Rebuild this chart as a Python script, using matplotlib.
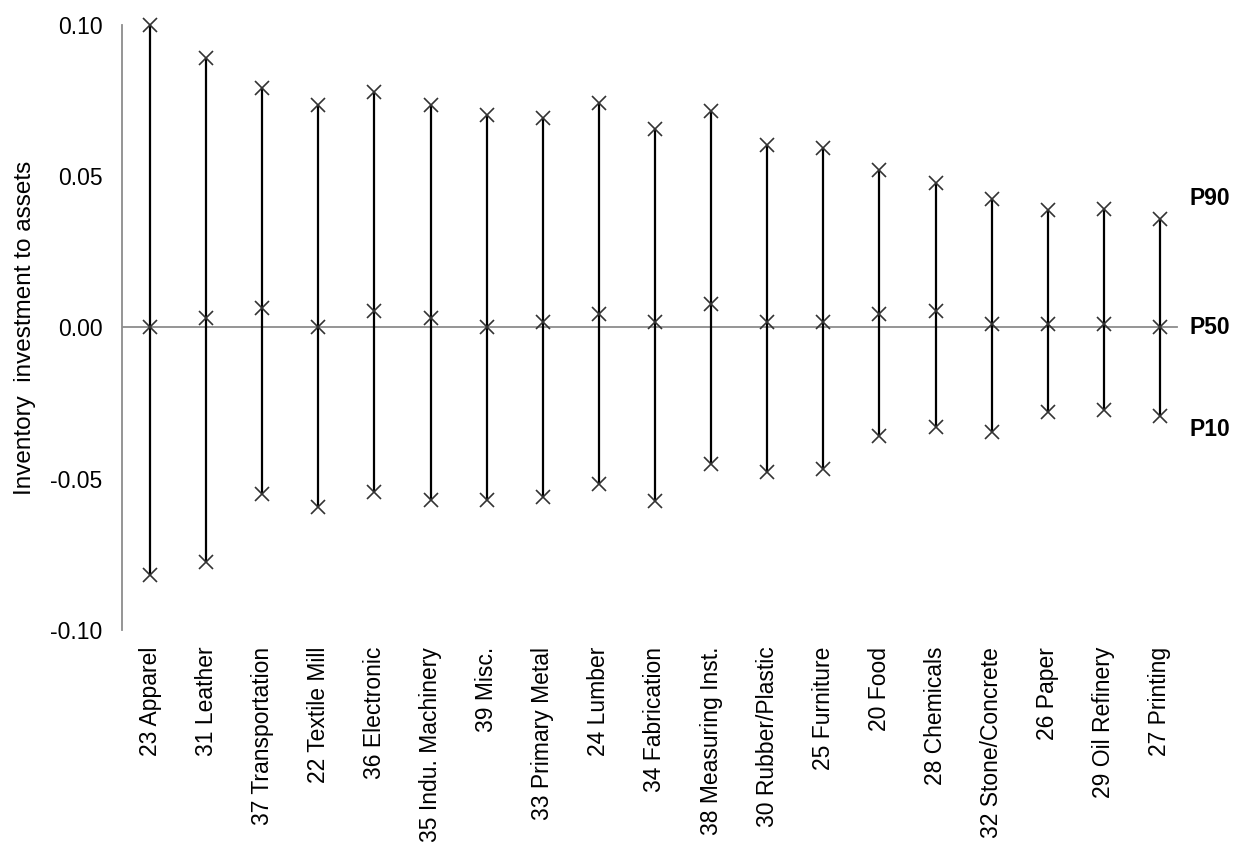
import matplotlib
matplotlib.use("Agg")
import matplotlib.pyplot as plt
import numpy as np

plt.rcParams['font.family'] = ['Liberation Sans', 'DejaVu Sans']

industries = [
    "23 Apparel", "31 Leather", "37 Transportation", "22 Textile Mill",
    "36 Electronic", "35 Indu. Machinery", "39 Misc.", "33 Primary Metal",
    "24 Lumber", "34 Fabrication", "38 Measuring Inst.", "30 Rubber/Plastic",
    "25 Furniture", "20 Food", "28 Chemicals", "32 Stone/Concrete",
    "26 Paper", "29 Oil Refinery", "27 Printing",
]
p90 = [0.100, 0.089, 0.079, 0.0737, 0.0777, 0.0734, 0.0704, 0.0694,
       0.0741, 0.0655, 0.0717, 0.0602, 0.0592, 0.0519, 0.0479, 0.0426,
       0.0387, 0.0393, 0.0360]
p50 = [0.0003, 0.0030, 0.0066, 0.0000, 0.0056, 0.0030, 0.0003, 0.0017,
       0.0046, 0.0017, 0.0079, 0.0017, 0.0017, 0.0046, 0.0056, 0.0010,
       0.0010, 0.0010, 0.0003]
p10 = [-0.0817, -0.0774, -0.0549, -0.0595, -0.0545, -0.0569, -0.0569,
       -0.0562, -0.0519, -0.0575, -0.0453, -0.0479, -0.0469, -0.0360,
       -0.0330, -0.0347, -0.0281, -0.0274, -0.0294]
yticks = [-0.10, -0.05, 0.00, 0.05, 0.10]
percentile_names = ["P90", "P50", "P10"]
percentile_label_y = [0.0426, 0.0, -0.0337]

fig = plt.figure(figsize=(12.41, 8.52), dpi=100)
ax = fig.add_axes([0.0983, 0.2606, 0.859, 0.7101])

x = np.arange(len(industries))
ax.axhline(0, color="#8c8c8c", lw=1.3, xmax=0.99, zorder=1)
ax.vlines(x, p10, p90, color="black", lw=1.6, zorder=2)
for series in (p90, p50, p10):
    ax.plot(x, series, linestyle="none", marker="x", ms=10, mew=1.2,
            color="#333333", zorder=3, clip_on=False)

ax.set_xlim(-0.5, len(industries) - 0.5)
ax.set_ylim(-0.10, 0.10)
ax.set_yticks(yticks)
ax.set_yticklabels([f"{v:.2f}" for v in yticks], fontsize=16.5)
ax.set_xticks(x)
ax.set_xticklabels(industries, rotation=90, fontsize=16.5, va="top")
ax.tick_params(axis="both", length=0)
ax.tick_params(axis="x", pad=12)
ax.tick_params(axis="y", pad=14)

for side in ("top", "right", "bottom"):
    ax.spines[side].set_visible(False)
ax.spines["left"].set_color("#8c8c8c")
ax.spines["left"].set_linewidth(1.3)

ax.set_ylabel("Inventory  investment to assets", fontsize=17.5, labelpad=10)

# percentile labels beside the last industry
last = len(industries) - 1
for name, yv in zip(percentile_names, percentile_label_y):
    ax.text(last + 0.53, yv, name, fontsize=16.5, fontweight="bold",
            ha="left", va="center", clip_on=False)

fig.savefig("out.png", dpi=100)
